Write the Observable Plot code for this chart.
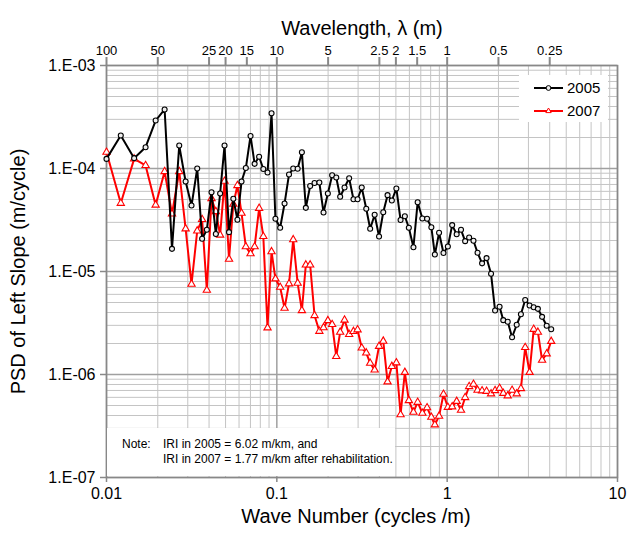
<!DOCTYPE html>
<html><head><meta charset="utf-8">
<script src="https://cdn.jsdelivr.net/npm/d3@7"></script>
<script src="https://cdn.jsdelivr.net/npm/@observablehq/plot@0.6"></script>
<style>
body{margin:0;background:#fff;}
#wrap{position:relative;width:627px;height:534px;font-family:"Liberation Sans",Arial,sans-serif;}
.legend{position:absolute;left:519px;top:75px;width:89px;height:47px;background:#fff;}
.note{position:absolute;left:107px;top:428px;width:288px;height:48px;background:#fff;font-size:12px;color:#000;}
.note span{position:absolute;white-space:nowrap;line-height:14px;}
</style></head><body><div id="wrap"></div>
<script>
// Wave number (cycles/m), shared by both surveys
const waveNumber = [0.0100,0.01213,0.01453,0.01696,0.01943,0.02194,0.02424,0.02673,0.02914,0.03156,
0.03409,0.03642,0.03882,0.04136,0.04384,0.04646,0.04931,0.05240,0.05554,0.05870,
0.06205,0.06577,0.07008,0.07406,0.07870,0.08330,0.08818,0.09310,0.09812,0.1046,
0.1110,0.1179,0.1248,0.1325,0.1403,0.1480,0.1569,0.1665,0.1777,0.1880,
0.1993,0.2112,0.2233,0.2354,0.2497,0.2658,0.2818,0.2978,0.3151,0.3350,
0.3531,0.3752,0.3982,0.4215,0.4467,0.4734,0.5032,0.5326,0.5644,0.5957,
0.6339,0.6710,0.7152,0.7621,0.8075,0.8467,0.8964,0.9513,1.0095,1.070,
1.137,1.206,1.275,1.346,1.427,1.508,1.603,1.703,1.810,1.911,
2.031,2.135,2.267,2.405,2.560,2.710,2.871,3.047,3.221,3.409,
3.608,3.840,4.081];

const psd2005 = [1.24e-4,2.09e-4,1.26e-4,1.61e-4,2.92e-4,3.74e-4,1.66e-5,1.67e-4,7.48e-5,4.37e-5,
1.00e-4,2.08e-5,2.54e-5,5.89e-5,2.31e-5,5.72e-5,1.67e-4,2.41e-5,5.08e-5,3.18e-5,
7.48e-5,1.01e-4,2.07e-4,1.11e-4,1.30e-4,9.89e-5,9.15e-5,3.44e-4,3.25e-5,2.66e-5,
4.57e-5,8.75e-5,1.00e-4,9.93e-5,1.44e-4,4.15e-5,6.76e-5,7.23e-5,7.31e-5,3.74e-5,
5.72e-5,8.61e-5,8.18e-5,5.31e-5,6.54e-5,8.05e-5,5.03e-5,5.03e-5,6.54e-5,4.06e-5,
2.60e-5,3.56e-5,2.19e-5,3.76e-5,5.51e-5,4.89e-5,6.40e-5,3.16e-5,3.44e-5,2.66e-5,
1.72e-5,4.71e-5,3.27e-5,3.25e-5,2.69e-5,1.46e-5,2.38e-5,1.51e-5,1.75e-5,2.82e-5,
2.30e-5,2.54e-5,1.97e-5,2.14e-5,1.99e-5,1.52e-5,1.20e-5,1.35e-5,9.50e-6,4.18e-6,
4.54e-6,3.37e-6,3.25e-6,2.30e-6,3.04e-6,3.85e-6,5.29e-6,4.68e-6,4.50e-6,4.34e-6,
3.63e-6,2.97e-6,2.75e-6];

const psd2007 = [1.44e-4,4.60e-5,1.24e-4,1.07e-4,4.42e-5,9.35e-5,3.63e-5,9.35e-5,2.60e-5,7.53e-6,
2.48e-5,3.20e-5,6.58e-6,5.11e-5,3.82e-5,2.26e-5,7.53e-5,1.32e-5,4.50e-5,6.84e-5,
3.68e-5,1.74e-5,1.49e-5,1.74e-5,4.11e-5,2.19e-5,2.84e-6,1.56e-5,8.49e-6,7.04e-6,
4.40e-6,7.60e-6,2.04e-5,7.70e-6,4.18e-6,1.16e-5,1.16e-5,3.74e-6,2.63e-6,2.85e-6,
3.34e-6,3.06e-6,1.50e-6,2.58e-6,3.38e-6,2.45e-6,2.62e-6,2.72e-6,1.81e-6,1.62e-6,
1.29e-6,1.11e-6,1.88e-6,2.11e-6,8.49e-7,1.20e-6,1.30e-6,4.07e-7,1.05e-6,5.59e-7,
4.31e-7,5.38e-7,4.21e-7,4.76e-7,3.85e-7,3.25e-7,3.94e-7,6.44e-7,4.81e-7,4.86e-7,
5.49e-7,4.50e-7,5.98e-7,7.65e-7,8.05e-7,7.04e-7,6.95e-7,6.88e-7,6.50e-7,6.99e-7,
7.35e-7,6.57e-7,6.21e-7,7.04e-7,6.50e-7,7.31e-7,1.83e-6,1.05e-6,2.75e-6,2.58e-6,
1.38e-6,1.59e-6,2.10e-6];

const series = ["2005", "2007"];
const xTickValues = [0.01, 0.1, 1, 10];
const xTickLabels = ["0.01", "0.1", "1", "10"];
const yTickValues = [1e-7, 1e-6, 1e-5, 1e-4, 1e-3];
const yTickLabels = ["1.E-07", "1.E-06", "1.E-05", "1.E-04", "1.E-03"];
const wavelengthTicks = [100, 50, 25, 20, 15, 10, 5, 2.5, 2, 1.5, 1, 0.5, 0.25];
const wavelengthLabels = ["100","50","25","20","15","10","5","2.5","2","1.5","1","0.5","0.25"];

const d2005 = waveNumber.map((k, i) => ({k, psd: psd2005[i]}));
const d2007 = waveNumber.map((k, i) => ({k, psd: psd2007[i]}));

const xMinor = [], yMinor = [];
[0.01, 0.1, 1].forEach(b => { for (let m = 2; m <= 9; m++) xMinor.push(b * m); });
[1e-7, 1e-6, 1e-5, 1e-4].forEach(b => { for (let m = 2; m <= 9; m++) yMinor.push(b * m); });

const topTicks = wavelengthTicks.map((l, i) => ({k: 1 / l, label: wavelengthLabels[i]}));
const xMap = new Map(xTickValues.map((v, i) => [v, xTickLabels[i]]));
const yMap = new Map(yTickValues.map((v, i) => [v, yTickLabels[i]]));

const chart = Plot.plot({
  width: 627, height: 534,
  marginLeft: 106, marginRight: 10, marginTop: 65, marginBottom: 57,
  style: {fontFamily: "'Liberation Sans', Arial, sans-serif", background: "white", color: "black"},
  x: {type: "log", domain: [0.01, 10]},
  y: {type: "log", domain: [1e-7, 1e-3]},
  marks: [
    Plot.ruleX(xMinor, {stroke: "#c4c4c4", strokeWidth: 1}),
    Plot.ruleY(yMinor, {stroke: "#c4c4c4", strokeWidth: 1}),
    Plot.ruleX(xTickValues, {stroke: "#a0a0a0", strokeWidth: 1.5}),
    Plot.ruleY(yTickValues, {stroke: "#a0a0a0", strokeWidth: 1.5}),
    Plot.frame({stroke: "#888", strokeWidth: 1.5}),
    Plot.axisX(xTickValues, {anchor: "bottom", tickFormat: d => xMap.get(d), tickSize: 5, tickPadding: 5, fontSize: 16, stroke: "#888", strokeWidth: 1.5, label: null}),
    Plot.axisX(topTicks.map(d => d.k), {anchor: "top", tickFormat: () => "", tickSize: 9, tickPadding: 3, stroke: "#888", strokeWidth: 2, label: null}),
    Plot.text(topTicks, {x: "k", text: "label", frameAnchor: "top", lineAnchor: "bottom", dy: -11, fontSize: 13}),
    Plot.axisY(yTickValues, {anchor: "left", tickFormat: d => yMap.get(d), tickSize: 6, tickPadding: 5, fontSize: 16, stroke: "#888", strokeWidth: 1.5, label: null}),
    Plot.text(["Wavelength, λ (m)"], {frameAnchor: "top", dy: -45, fontSize: 20}),
    Plot.text(["Wave Number (cycles /m)"], {frameAnchor: "bottom", dy: 45, dx: -6, fontSize: 20}),
    Plot.text(["PSD of Left Slope (m/cycle)"], {frameAnchor: "left", textAnchor: "middle", dx: -88, rotate: -90, fontSize: 20}),
    Plot.line(d2007, {x: "k", y: "psd", stroke: "#ff0000", strokeWidth: 2}),
    Plot.dot(d2007, {x: "k", y: "psd", symbol: "triangle", r: 2.7, stroke: "#ff0000", fill: "white", strokeWidth: 1.1}),
    Plot.line(d2005, {x: "k", y: "psd", stroke: "#000", strokeWidth: 2}),
    Plot.dot(d2005, {x: "k", y: "psd", r: 2.5, stroke: "#000", fill: "#eee", strokeWidth: 1.1})
  ]
});

const wrap = document.getElementById("wrap");
wrap.appendChild(chart);

const legend = document.createElement("div");
legend.className = "legend";
legend.innerHTML = `<svg width="89" height="47" font-family="Liberation Sans, Arial, sans-serif">
  <line x1="15" y1="13" x2="44" y2="13" stroke="#000" stroke-width="2"/>
  <circle cx="29.5" cy="13" r="2.4" fill="#eee" stroke="#000"/>
  <text x="48" y="13" dy="0.36em" font-size="15">${series[0]}</text>
  <line x1="15" y1="36" x2="44" y2="36" stroke="#ff0000" stroke-width="2"/>
  <path d="M29.5,33 L32.2,37.6 L26.8,37.6 Z" fill="#fff" stroke="#ff0000"/>
  <text x="48" y="36" dy="0.36em" font-size="15">${series[1]}</text>
</svg>`;
wrap.appendChild(legend);

const note = document.createElement("div");
note.className = "note";
note.innerHTML = `<span style="left:15px;top:9px">Note:</span>
<span style="left:56px;top:9px">IRI in 2005 = 6.02 m/km, and</span>
<span style="left:56px;top:24px">IRI in 2007 = 1.77 m/km after rehabilitation.</span>`;
wrap.appendChild(note);
</script></body></html>
